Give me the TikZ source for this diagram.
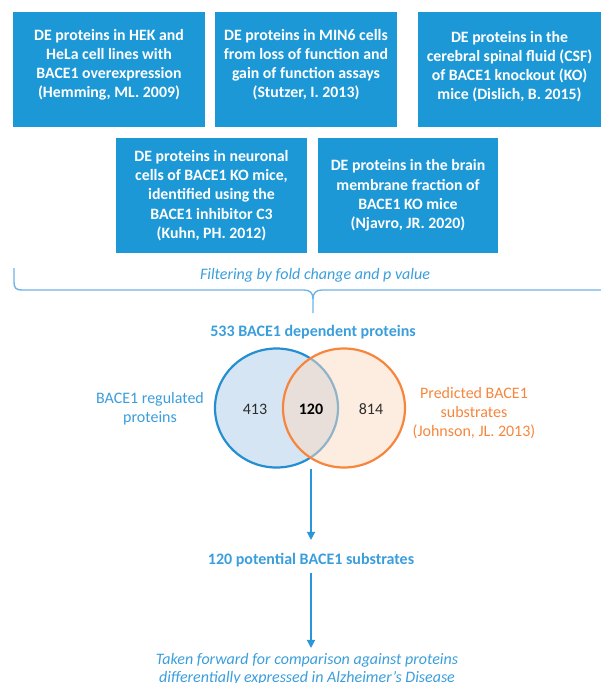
\documentclass[tikz,border=0pt]{standalone}
\usepackage{fontspec}
\setmainfont{Carlito}
\usetikzlibrary{arrows.meta,shapes.geometric}
\definecolor{boxblue}{RGB}{29,152,214}
\definecolor{txtblue}{RGB}{58,158,220}
\definecolor{lineblue}{RGB}{40,150,215}
\definecolor{braceblue}{RGB}{110,180,230}
\definecolor{vennblue}{RGB}{36,142,208}
\definecolor{vennbluefill}{RGB}{214,229,243}
\definecolor{vennorange}{RGB}{247,134,60}
\definecolor{vennorangefill}{RGB}{251,219,196}
\definecolor{numgray}{RGB}{45,45,45}
\begin{document}
\begin{tikzpicture}[x=1pt,y=-1pt,
  srcbox/.style={fill=boxblue, text=white, font=\fontsize{15.8}{19.3}\selectfont\bfseries,
    align=center, inner sep=0pt, minimum height=115pt},
  lbl/.style={text=txtblue, font=\fontsize{16}{19}\selectfont, align=center, inner sep=0pt},
  orlbl/.style={text=vennorange, font=\fontsize{16}{19}\selectfont, align=center, inner sep=0pt},
  num/.style={text=numgray, font=\fontsize{16}{17}\selectfont, inner sep=0pt},
  conn/.style={draw=lineblue, line width=1.3pt, -{Triangle[width=8pt,length=8pt]}},
  brace/.style={draw=braceblue, line width=1.4pt}]
\useasboundingbox (0,0) rectangle (601,683);

% source boxes
\node[srcbox, minimum width=192pt, text depth=12pt] (b1) at (109,69.5)
  {DE proteins in HEK and\\HeLa cell lines with\\BACE1 overexpression\\(Hemming, ML. 2009)};
\node[srcbox, minimum width=182pt, text depth=12pt] (b2) at (306,69.5)
  {DE proteins in MIN6 cells\\from loss of function and\\gain of function assays\\(Stutzer, I. 2013)};
\node[srcbox, minimum width=183pt, text depth=8pt] (b3) at (509.5,69.5)
  {DE proteins in the\\cerebral spinal fluid (CSF)\\of BACE1 knockout (KO)\\mice (Dislich, B. 2015)};
\node[srcbox, minimum width=191pt] (b4) at (211.5,195.5)
  {DE proteins in neuronal\\cells of BACE1 KO mice,\\identified using the\\BACE1 inhibitor C3\\(Kuhn, PH. 2012)};
\node[srcbox, minimum width=180pt] (b5) at (408,195.5)
  {DE proteins in the brain\\membrane fraction of\\BACE1 KO mice\\(Njavro, JR. 2020)};

% filtering
\node[lbl, font=\fontsize{16}{19}\selectfont\itshape] (filt) at (315,275) {Filtering by fold change and p value};
\coordinate (brL) at (14,268);
\coordinate (brR) at (601,290);
\coordinate (brTip) at (313,313);
\path[brace] (brL) -- (14,282) .. controls (14,288) and (16,290) .. (22,290) -- (304,290)
  .. controls (310,290) and (313,293) .. (313,299) -- (brTip);
\path[brace] (brR) -- (322,290) .. controls (316,290) and (313,293) .. (313,299);

\node[lbl, font=\fontsize{16}{19}\selectfont\bfseries] (dep) at (313,332) {533 BACE1 dependent proteins};

% venn
\node[ellipse, draw=vennblue, fill=vennbluefill, line width=2.2pt, minimum width=123pt, minimum height=119pt, inner sep=0pt] (vb) at (276.5,408) {};
\node[ellipse, draw=vennorange, fill=vennorangefill, fill opacity=0.5, draw opacity=1, line width=2.2pt, minimum width=122pt, minimum height=119pt, inner sep=0pt] (vo) at (344,408) {};
\node[num] (n413) at (255,409) {413};
\node[num, text=black, font=\fontsize{16}{17}\selectfont\bfseries] (n120) at (311,409) {120};
\node[num] (n814) at (371,409) {814};
\node[lbl] (lreg) at (150,409) {BACE1 regulated\\proteins};
\node[orlbl] (lpred) at (474,413) {Predicted BACE1\\substrates\\(Johnson, JL. 2013)};

% results
\node[lbl, font=\fontsize{16}{19}\selectfont\bfseries] (sub) at (311,560) {120 potential BACE1 substrates};
\node[lbl, font=\fontsize{16}{18}\selectfont\itshape] (take) at (307,669)
  {Taken forward for comparison against proteins\\differentially expressed in Alzheimer’s Disease};

\draw[conn] (vb.south -| sub) -- ([yshift=13pt]sub.north);
\draw[conn] ([yshift=-6pt]sub.south) -- ([yshift=5pt]take.north -| sub);
\end{tikzpicture}
\end{document}
